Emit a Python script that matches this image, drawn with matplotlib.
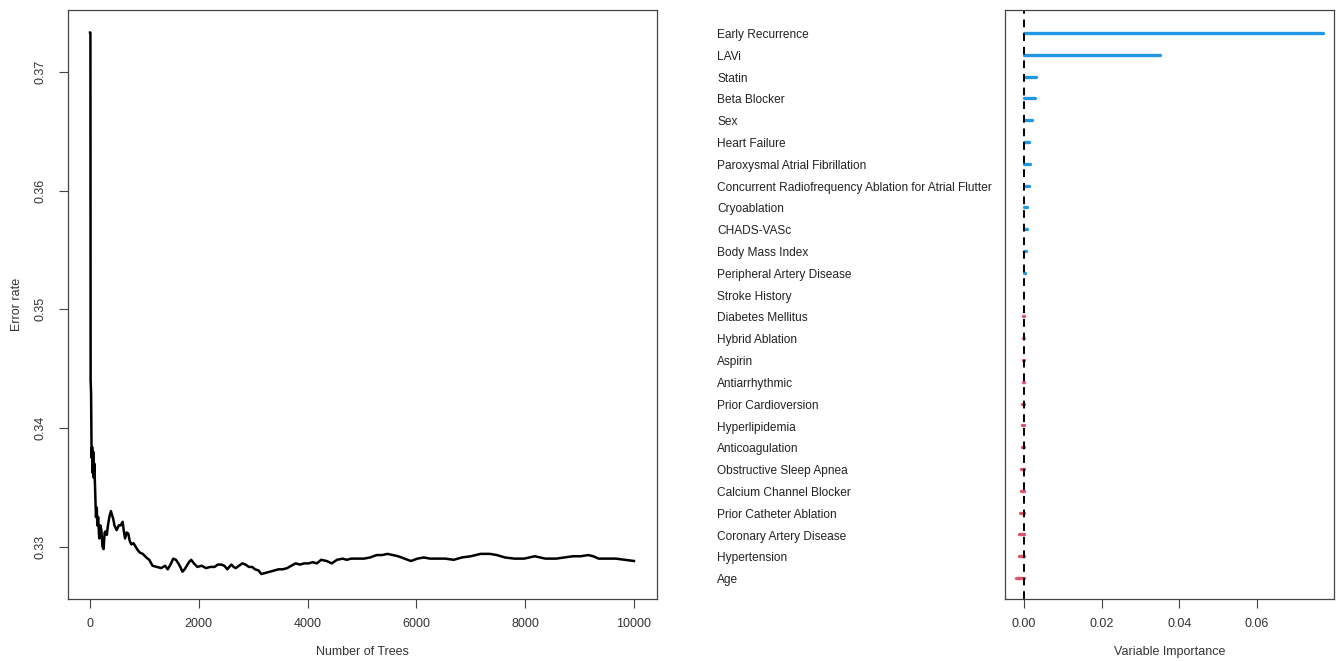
import numpy as np
import matplotlib
matplotlib.use("Agg")
import matplotlib.pyplot as plt
from matplotlib.transforms import blended_transform_factory, ScaledTranslation

plt.rcParams['font.family'] = ['Liberation Sans', 'DejaVu Sans']

# error rate (rows of 10)
n_trees = [1, 8, 12, 20, 30, 40, 50, 60, 70, 80,
           90, 100, 110, 125, 135, 150, 170, 190, 210, 230,
           250, 270, 290, 310, 330, 360, 385, 410, 425, 450,
           490, 530, 565, 600, 620, 645, 675, 705, 730, 760,
           800, 840, 880, 920, 970, 1035, 1090, 1150, 1230, 1310,
           1380, 1430, 1480, 1530, 1580, 1625, 1660, 1700, 1740, 1780,
           1820, 1860, 1910, 1975, 2050, 2135, 2210, 2290, 2350, 2410,
           2470, 2525, 2560, 2600, 2640, 2680, 2740, 2800, 2860, 2920,
           2980, 3035, 3100, 3150, 3230, 3310, 3390, 3465, 3540, 3625,
           3700, 3780, 3860, 3940, 4020, 4095, 4170, 4250, 4350, 4445,
           4540, 4645, 4720, 4800, 4920, 5035, 5150, 5270, 5370, 5470,
           5570, 5665, 5780, 5900, 6020, 6135, 6250, 6370, 6530, 6685,
           6840, 7000, 7180, 7350, 7480, 7625, 7800, 7980, 8080, 8175,
           8370, 8570, 8720, 8880, 9020, 9160, 9250, 9350, 9500, 9665,
           9830, 10000]
err_rate = [0.3733, 0.3733, 0.3440, 0.3430, 0.3375, 0.3384, 0.3362, 0.3380, 0.3358, 0.3370,
            0.3355, 0.3340, 0.3325, 0.3333, 0.3318, 0.3325, 0.3307, 0.3318, 0.3314, 0.3300,
            0.3298, 0.3312, 0.3313, 0.3310, 0.3318, 0.3326, 0.3330, 0.3326, 0.3324, 0.3318,
            0.3314, 0.3318, 0.3318, 0.3321, 0.3314, 0.3307, 0.3312, 0.3311, 0.3305, 0.3302,
            0.3303, 0.3300, 0.3297, 0.3295, 0.3294, 0.3291, 0.3289, 0.3284, 0.3283, 0.3282,
            0.3284, 0.3281, 0.3285, 0.3290, 0.3289, 0.3286, 0.3283, 0.3279, 0.3281, 0.3284,
            0.3287, 0.3289, 0.3286, 0.3283, 0.3284, 0.3282, 0.3283, 0.3283, 0.3285, 0.3285,
            0.3284, 0.3281, 0.3283, 0.3285, 0.3283, 0.3282, 0.3284, 0.3286, 0.3285, 0.3283,
            0.3283, 0.3281, 0.3280, 0.3277, 0.3278, 0.3279, 0.3280, 0.3281, 0.3281, 0.3282,
            0.3284, 0.3286, 0.3285, 0.3286, 0.3286, 0.3287, 0.3286, 0.3289, 0.3288, 0.3286,
            0.3289, 0.3290, 0.3289, 0.3290, 0.3290, 0.3290, 0.3291, 0.3293, 0.3293, 0.3294,
            0.3293, 0.3292, 0.3290, 0.3288, 0.3290, 0.3291, 0.3290, 0.3290, 0.3290, 0.3289,
            0.3291, 0.3292, 0.3294, 0.3294, 0.3293, 0.3291, 0.3290, 0.3290, 0.3291, 0.3292,
            0.3290, 0.3290, 0.3291, 0.3292, 0.3292, 0.3293, 0.3292, 0.3290, 0.3290, 0.3290,
            0.3289, 0.3288]

# variable importance, top to bottom
var_names = ["Early Recurrence", "LAVi", "Statin", "Beta Blocker", "Sex",
             "Heart Failure", "Paroxysmal Atrial Fibrillation",
             "Concurrent Radiofrequency Ablation for Atrial Flutter",
             "Cryoablation", "CHADS-VASc", "Body Mass Index",
             "Peripheral Artery Disease", "Stroke History", "Diabetes Mellitus",
             "Hybrid Ablation", "Aspirin", "Antiarrhythmic", "Prior Cardioversion",
             "Hyperlipidemia", "Anticoagulation", "Obstructive Sleep Apnea",
             "Calcium Channel Blocker", "Prior Catheter Ablation",
             "Coronary Artery Disease", "Hypertension", "Age"]
vimp = [0.0770, 0.0350, 0.0030, 0.0028, 0.0020, 0.0014, 0.0015, 0.0012, 0.0009,
        0.0007, 0.0005, 0.0003, -0.0001, -0.0002, -0.0002, -0.0002, -0.0003,
        -0.0006, -0.0005, -0.0005, -0.0008, -0.0009, -0.0010, -0.0012, -0.0013,
        -0.0020]

fig = plt.figure(figsize=(13.37, 6.61), dpi=100)

tick_kw = dict(direction='out', length=6.5, width=0.8, colors='#444444',
               labelcolor='#333333', labelsize=9)

# left panel: error rate
ax1 = fig.add_axes([68 / 1337, 1 - 599 / 661, 589 / 1337, 589 / 661])
ax1.plot(n_trees, err_rate, color='black', lw=1.8)
ax1.set_xlim(-404, 10423)
ax1.set_ylim(0.3256, 0.3752)
ax1.set_xticks([0, 2000, 4000, 6000, 8000, 10000])
ax1.set_yticks([0.33, 0.34, 0.35, 0.36, 0.37])
ax1.set_yticklabels(["0.33", "0.34", "0.35", "0.36", "0.37"], rotation=90, va='center')
ax1.tick_params(axis='x', pad=7, **tick_kw)
ax1.tick_params(axis='y', pad=9, **tick_kw)
ax1.set_xlabel("Number of Trees", fontsize=9, color='#333333', labelpad=12)
ax1.set_ylabel("Error rate", fontsize=9, color='#333333', labelpad=8)
for s in ax1.spines.values():
    s.set_color('#444444')
    s.set_linewidth(0.9)

# right panel: variable importance
ax2 = fig.add_axes([1005 / 1337, 1 - 599 / 661, 329 / 1337, 589 / 661])
ypos = np.arange(len(var_names), 0, -1)
cols = ['#2297E6' if v > 0 else '#DF536B' for v in vimp]
ax2.hlines(ypos, 0, vimp, colors=cols, lw=2.4, capstyle='round')
ax2.axvline(0, color='black', lw=1.4, ls=(0, (4, 3)))
ax2.set_xlim(-0.00489, 0.0798)
ax2.set_ylim(0.04, 27.05)
ax2.set_yticks([])
ax2.set_xticks([0.0, 0.02, 0.04, 0.06])
ax2.set_xticklabels(["0.00", "0.02", "0.04", "0.06"])
ax2.tick_params(axis='x', pad=7, **tick_kw)
ax2.set_xlabel("Variable Importance", fontsize=9, color='#333333', labelpad=12)
for s in ax2.spines.values():
    s.set_color('#444444')
    s.set_linewidth(0.9)

trans = blended_transform_factory(fig.transFigure, ax2.transData)
trans = trans + ScaledTranslation(0, -1.5 / 72, fig.dpi_scale_trans)
for name, y in zip(var_names, ypos):
    ax2.text(717 / 1337, y, name, transform=trans, ha='left', va='center',
             fontsize=8.6, color='#222222')

fig.savefig("out.png", dpi=100)
